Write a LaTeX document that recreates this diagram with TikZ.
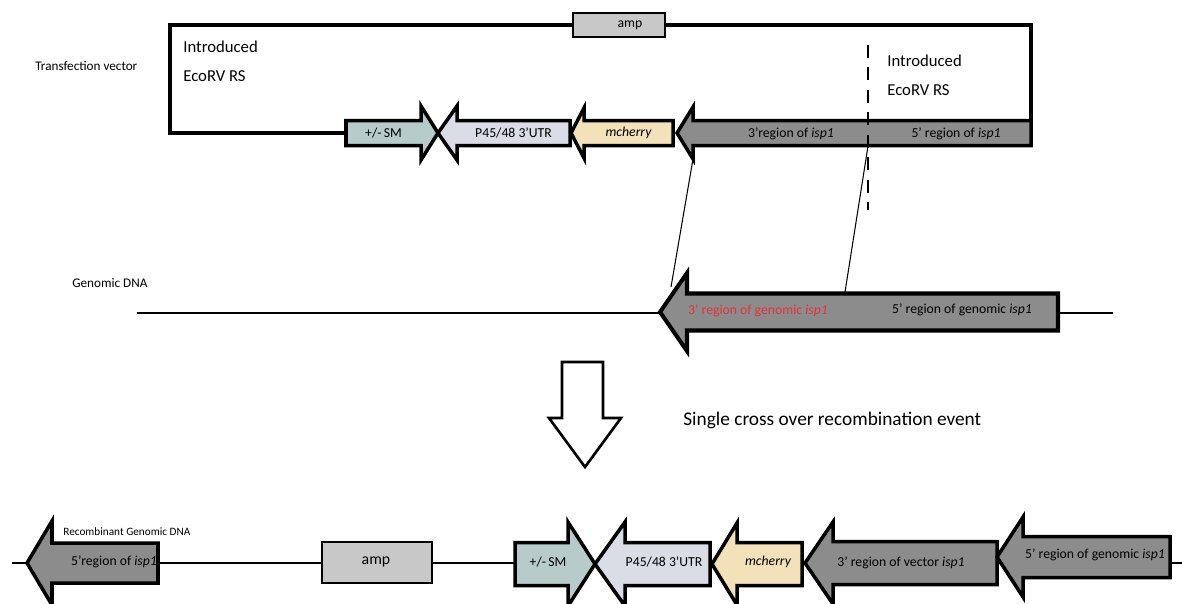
\documentclass[tikz,border=0pt]{standalone}
\usepackage{fontspec}
\setmainfont{Carlito}
\usetikzlibrary{arrows.meta,positioning}

\definecolor{smfill}{HTML}{B7CBCB}
\definecolor{utrfill}{HTML}{DADCE6}
\definecolor{cherryfill}{HTML}{F3E2B9}
\definecolor{ispfill}{HTML}{8C8C8C}
\definecolor{ampfill}{HTML}{C8C8C8}
\definecolor{genred}{HTML}{E8303A}

% #1 name, #2 fill, #3 tip x, #4 head base x, #5 tail x, #6 centre y, #7 half body, #8 half head
\newcommand{\genearrow}[8]{%
  \draw[gene,fill=#2] (#3,#6) -- (#4,{#6-#8}) -- (#4,{#6-#7}) -- (#5,{#6-#7})
    -- (#5,{#6+#7}) -- (#4,{#6+#7}) -- (#4,{#6+#8}) -- cycle;
  \coordinate (#1-tip) at (#3,#6);
  \coordinate (#1-top) at (#4,{#6-#8});
  \coordinate (#1-bot) at (#4,{#6+#8});
  \coordinate (#1-end) at (#5,#6);
  \coordinate (#1) at ({(#4+#5)/2},#6);}

\begin{document}
\begin{tikzpicture}[x=0.02cm,y=-0.02cm,
  gene/.style={line width=2pt,line join=miter},
  backbone/.style={line width=2pt},
  dna/.style={line width=0.6pt},
  glabel/.style={font=\fontsize{7.8}{9}\selectfont,inner sep=0pt},
  side/.style={font=\fontsize{7.5}{9}\selectfont,anchor=west,inner sep=0pt},
  rs/.style={font=\fontsize{9.5}{16.5}\selectfont,align=left,anchor=north west,inner sep=0pt},
  ampbox/.style={draw,line width=1.6pt,fill=ampfill,inner sep=0pt},
  rsdash/.style={line width=1.3pt,dash pattern=on 7.4pt off 5.4pt}
]
\useasboundingbox (0,0) rectangle (1182,603);

% transfection vector
\draw[backbone] (346,133) -| (170,25) -| (1031,121);
\node[ampbox,minimum width=1.84cm,minimum height=0.48cm] (vamp) at (619,25) {};
\node[glabel] (vamp-l) at (630,25) {amp};
\genearrow{vsm}{smfill}{438}{421}{346}{133}{12.5}{27}
\genearrow{vutr}{utrfill}{438}{457}{570}{133}{12.5}{27}
\genearrow{vch}{cherryfill}{571}{584}{673}{133}{12.5}{25}
\genearrow{visp}{ispfill}{677}{693}{1031}{133}{12.5}{26}
\node[glabel] (vsm-l) at (vsm) {+/-\,SM};
\node[glabel] (vutr-l) at (vutr) {P45/48 3'UTR};
\node[glabel] (vch-l) at (vch) {\itshape mcherry};
\node[glabel] (visp3) at (791,134) {3'region of \emph{isp1}};
\node[glabel] (visp5) at (956,134) {5' region of \emph{isp1}};
\coordinate (rs-a) at (868,45);
\coordinate (rs-b) at (868,210);
\draw[rsdash] (rs-a) -- (rs-b);
\node[rs] (rs1) at (183,41) {Introduced\\EcoRV RS};
\node[rs] (rs2) at (887,55) {Introduced\\EcoRV RS};
\node[side] (tv) at (35,66) {Transfection vector};

% genomic DNA
\coordinate (g-a) at (137,313);
\coordinate (g-b) at (1113,313);
\draw[dna] (g-a) -- (g-b);
\node[side] (gd) at (72,283) {Genomic DNA};
\draw[gene,line width=2.3pt,fill=ispfill] (660,312) -- (687,273) -- (687,293.5) -- (1058,293.5)
  -- (1058,330.5) -- (687,330.5) -- (687,351) -- cycle;
\node[glabel,text=genred] (g3) at (758,311) {3' region of genomic \emph{isp1}};
\node[glabel] (g5) at (962,310) {5' region of genomic \emph{isp1}};

% crossover
\coordinate (rs-c) at (868,146);
\coordinate (xo1) at (671,287);
\coordinate (xo2) at (845,292);
\draw[dna] (visp-bot) -- (xo1);
\draw[dna] (rs-c) -- (xo2);

% recombination step
\draw[line width=1.5pt,line join=miter,fill=white] (562,362) -- (603,362) -- (603,418) -- (621,418)
  -- (585,467) -- (549,418) -- (562,418) -- cycle;
\node[font=\fontsize{11}{13}\selectfont,anchor=west,inner sep=0pt] (ev) at (683,420)
  {Single cross over recombination event};

% recombinant genomic DNA
\node[font=\fontsize{6.4}{8}\selectfont,anchor=west,inner sep=0pt] (rg) at (63,532) {Recombinant Genomic DNA};
\coordinate (r-a) at (12,563);
\coordinate (r-b) at (1182,563);
\draw[dna] (r-a) -- (r-b);
\genearrow{risp5}{ispfill}{27}{52}{158}{563}{20}{42}
\node[ampbox,minimum width=2.2cm,minimum height=0.82cm] (ramp) at (377,562.5) {};
\node[glabel,font=\fontsize{9}{10}\selectfont] (ramp-l) at (376,562) {amp};
\genearrow{rsm}{smfill}{595}{568}{515}{564}{21.5}{42}
\genearrow{rutr}{utrfill}{595}{625}{710}{564}{21.5}{42}
\genearrow{rch}{cherryfill}{712}{737}{802}{564}{21.5}{41}
\genearrow{rvisp}{ispfill}{805}{833}{997}{563}{21.5}{41}
\genearrow{rgisp}{ispfill}{997}{1023}{1170}{557}{20.5}{40}
\node[glabel] (risp5-l) at (114,562) {5'region of \emph{isp1}};
\node[glabel] (rsm-l) at (548,562) {+/-\,SM};
\node[glabel] (rutr-l) at (664,562) {P45/48 3'UTR};
\node[glabel] (rch-l) at (768,562) {\itshape mcherry};
\node[glabel] (rvisp-l) at (901,563) {3' region of vector \emph{isp1}};
\node[glabel] (rgisp-l) at (1095,555) {5' region of genomic \emph{isp1}};
\end{tikzpicture}
\end{document}
